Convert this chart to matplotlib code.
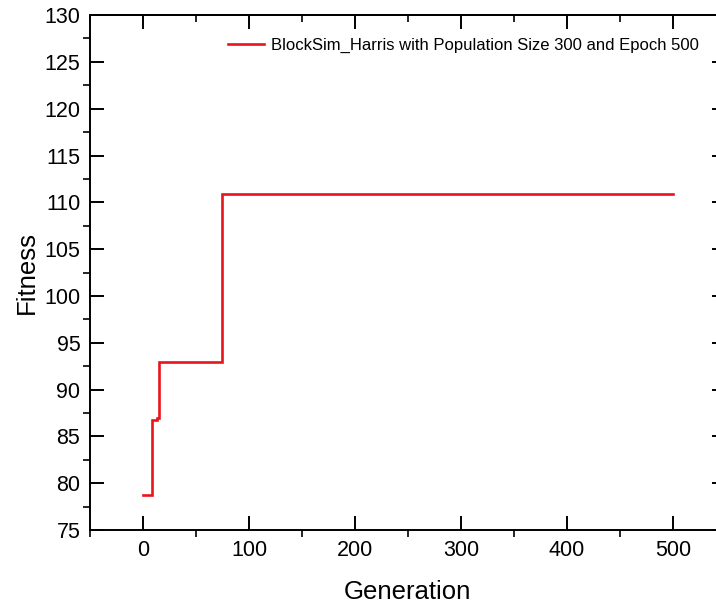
"""
Fitness vs Generation — BlockSim_Harris (popolazione 300, 500 epoche)
Output: out.png
"""

import matplotlib
matplotlib.use("Agg")
import matplotlib.pyplot as plt
from matplotlib.ticker import MultipleLocator

# ── Dati ───────────────────────────────────────────────────────────────────────
generation = [0, 8.2, 8.2, 13.5, 13.5, 15.5, 15.5, 74.8, 74.8, 500]
fitness    = [78.7, 78.7, 86.8, 86.8, 87.0, 87.0, 92.9, 92.9, 110.9, 110.9]
series_label = "BlockSim_Harris with Population Size 300 and Epoch 500"

x_ticks = [0, 100, 200, 300, 400, 500]
y_ticks = [75, 80, 85, 90, 95, 100, 105, 110, 115, 120, 125, 130]

LINE_COLOR = "#e8141c"
# ──────────────────────────────────────────────────────────────────────────────

plt.rcParams["font.family"] = ["Liberation Sans", "DejaVu Sans"]

fig = plt.figure(figsize=(7.16, 6.03), dpi=100)
# asse destro tagliato fuori dall'immagine, come nel riferimento
ax = fig.add_axes([0.1257, 0.121, 0.888, 0.854])

ax.plot(generation, fitness, color=LINE_COLOR, linewidth=1.9,
        solid_joinstyle="miter", label=series_label)

ax.set_xlim(-50, 550)
ax.set_ylim(75, 130)
ax.set_xticks(x_ticks)
ax.set_yticks(y_ticks)
ax.xaxis.set_minor_locator(MultipleLocator(50))
ax.yaxis.set_minor_locator(MultipleLocator(2.5))

ax.tick_params(which="major", direction="in", length=10, width=1.4,
               top=False, right=True, labelsize=15.5, pad=7)
ax.tick_params(which="minor", direction="out", length=5, width=1.2,
               top=False, right=False)
for s in ax.spines.values():
    s.set_linewidth(1.4)

# asse in alto: tutte le tacche verso l'interno, senza etichette
top = ax.secondary_xaxis("top")
top.set_xticks(x_ticks)
top.xaxis.set_minor_locator(MultipleLocator(50))
top.tick_params(which="major", direction="in", length=10, width=1.4,
                labeltop=False)
top.tick_params(which="minor", direction="in", length=5, width=1.2)
top.spines["top"].set_linewidth(1.4)

ax.set_xlabel("Generation", fontsize=18.5, labelpad=14)
ax.set_ylabel("Fitness", fontsize=18.5, labelpad=4)

ax.legend(loc="upper left", bbox_to_anchor=(0.193, 0.985), frameon=False,
          fontsize=12, handlelength=2.2, handletextpad=0.4)

fig.savefig("out.png", dpi=100)
plt.close(fig)
